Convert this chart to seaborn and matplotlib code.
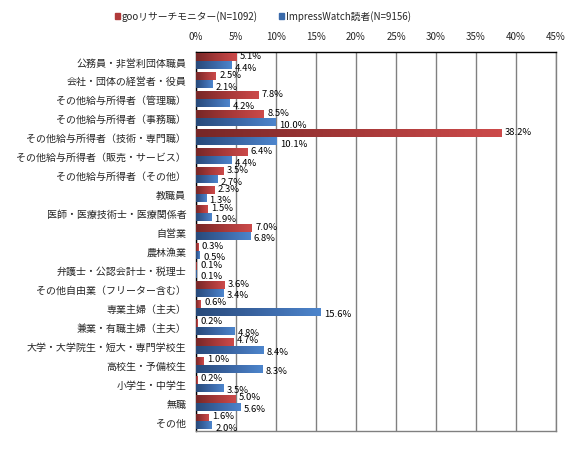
import numpy as np
import pandas as pd
import matplotlib
matplotlib.use("Agg")
import matplotlib.pyplot as plt
from matplotlib.colors import LinearSegmentedColormap
from matplotlib.patches import Patch
import seaborn as sns

# Datos
categorias = [
    "公務員・非営利団体職員", "会社・団体の経営者・役員", "その他給与所得者（管理職）",
    "その他給与所得者（事務職）", "その他給与所得者（技術・専門職）",
    "その他給与所得者（販売・サービス）", "その他給与所得者（その他）", "教職員",
    "医師・医療技術士・医療関係者", "自営業", "農林漁業", "弁護士・公認会計士・税理士",
    "その他自由業（フリーター含む）", "専業主婦（主夫）", "兼業・有職主婦（主夫）",
    "大学・大学院生・短大・専門学校生", "高校生・予備校生", "小学生・中学生", "無職", "その他",
]
goo = [5.1, 2.5, 7.8, 8.5, 38.2, 6.4, 3.5, 2.3, 1.5, 7.0,
       0.3, 0.1, 3.6, 0.6, 0.2, 4.7, 1.0, 0.2, 5.0, 1.6]
impress = [4.4, 2.1, 4.2, 10.0, 10.1, 4.4, 2.7, 1.3, 1.9, 6.8,
           0.5, 0.1, 3.4, 15.6, 4.8, 8.4, 8.3, 3.5, 5.6, 2.0]
series = ["gooリサーチモニター(N=1092)", "ImpressWatch読者(N=9156)"]
ticks = list(range(0, 50, 5))

sns.set_theme(style="white")
plt.rcParams["font.family"] = ["Noto Sans CJK JP", "DejaVu Sans"]

df = pd.DataFrame({
    "cat": categorias * 2,
    "val": goo + impress,
    "serie": [series[0]] * len(goo) + [series[1]] * len(impress),
})

fig = plt.figure(figsize=(5.74, 4.52), dpi=100)
ax = fig.add_axes([196 / 574, 1 - 432 / 452, 360 / 574, 379 / 452])

sns.barplot(data=df, y="cat", x="val", hue="serie", orient="h", ax=ax,
            palette=["#b33c3c", "#3c6cb0"], width=0.84, legend=False,
            errorbar=None, saturation=1)

# degradado en las barras
cmaps = [
    LinearSegmentedColormap.from_list("r", ["#772727", "#a53838", "#cc4a4a"]),
    LinearSegmentedColormap.from_list("b", ["#284a7a", "#3a65a3", "#4d85cc"]),
]
grad = np.linspace(0, 1, 64).reshape(1, -1)
for cont, cm in zip(ax.containers, cmaps):
    for p in cont:
        x0, y0 = p.get_x(), p.get_y()
        w, h = p.get_width(), p.get_height()
        if w <= 0:
            continue
        ax.imshow(grad, extent=[x0, x0 + w, y0 + h, y0], aspect="auto",
                  cmap=cm, zorder=3, interpolation="bilinear")
        p.set_visible(False)

ax.set_xlim(0, 45)
ax.set_ylim(len(categorias) - 0.5, -0.5)

# etiquetas de valores
for cont, vals, dy in zip(ax.containers, [goo, impress], [-0.1, 0.1]):
    for p, v in zip(cont, vals):
        ax.text(v + 0.4, p.get_y() + p.get_height() / 2 + dy, f"{v:.1f}%",
                fontsize=6.8, va="center", ha="left", zorder=5, color="black")

# ejes
ax.xaxis.tick_top()
ax.set_xticks(ticks)
ax.set_xticklabels([f"{t}%" for t in ticks], fontsize=7)
ax.tick_params(axis="x", length=0, pad=8)
ax.set_yticks(range(len(categorias)))
ax.tick_params(axis="y", length=0, pad=7, labelsize=7.2)
ax.set_yticks(np.arange(-0.5, len(categorias), 1), minor=True)
ax.tick_params(axis="y", which="minor", length=3, color="black", width=1)
ax.set_xlabel("")
ax.set_ylabel("")
ax.grid(axis="x", color="#808080", lw=1, zorder=0)
ax.set_axisbelow(True)
for s in ["left", "top"]:
    ax.spines[s].set_color("black")
    ax.spines[s].set_linewidth(1)
for s in ["right", "bottom"]:
    ax.spines[s].set_color("#808080")
    ax.spines[s].set_linewidth(1)

handles = [Patch(color="#b03a3a"), Patch(color="#3a6aaa")]
fig.legend(handles, series, loc="center", bbox_to_anchor=(263 / 574, 1 - 17 / 452),
           ncol=2, frameon=False, fontsize=7, handlelength=0.5, handleheight=0.5,
           handletextpad=0.2, columnspacing=2.2)

fig.savefig("out.png", dpi=100)
